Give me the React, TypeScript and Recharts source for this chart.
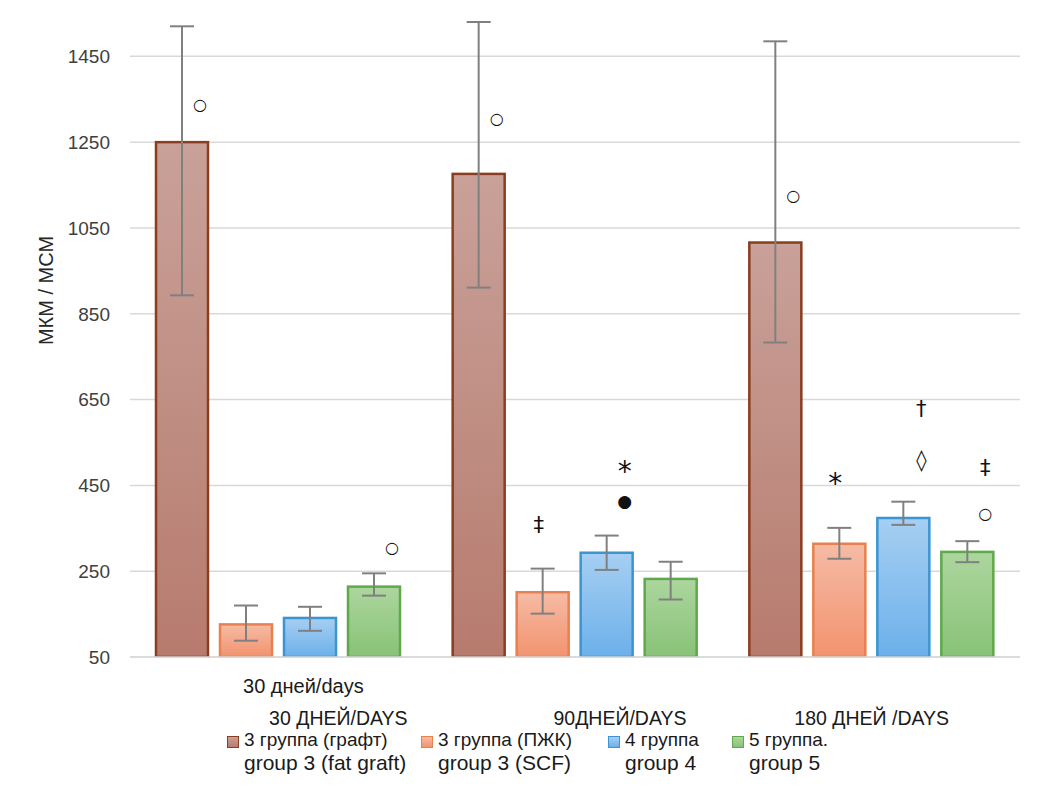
import { ComposedChart, Bar, XAxis, YAxis, CartesianGrid, ErrorBar, Legend } from 'recharts';

const categories = ['30 ДНЕЙ/DAYS', '90ДНЕЙ/DAYS', '180 ДНЕЙ /DAYS'];
const axisSubtitle = '30 дней/days';
const yTicks = [50, 250, 450, 650, 850, 1050, 1250, 1450];

// means and [lower, upper] error sizes per day
const graftMean = [1250, 1176, 1016];
const graftErr = [[357, 270], [265, 354], [233, 469]];
const scfMean = [126, 201, 314];
const scfErr = [[38, 44], [50, 55], [35, 37]];
const g4Mean = [141, 293, 374];
const g4Err = [[30, 26], [40, 40], [16, 38]];
const g5Mean = [214, 232, 295];
const g5Err = [[21, 31], [48, 40], [24, 25]];

// significance marks, "at" is the level (in axis units) where the sign sits
const graftMarks = [[{ s: '○', at: 1338 }], [{ s: '○', at: 1304 }], [{ s: '○', at: 1125 }]];
const scfMarks = [[], [{ s: '‡', at: 358 }], [{ s: '*', at: 472 }]];
const g4Marks = [[], [{ s: '*', at: 500 }, { s: '●', at: 414 }], [{ s: '†', at: 627 }, { s: '◊', at: 509 }]];
const g5Marks = [[{ s: '○', at: 305 }], [], [{ s: '‡', at: 490 }, { s: '○', at: 384 }]];

const series = [
  { key: 'graft', mean: graftMean, err: graftErr, marks: graftMarks, name: ['3 группа (графт)', 'group 3 (fat graft)'], top: '#c9a199', bottom: '#b77b6e', stroke: '#8b3d1f', markDx: 18 },
  { key: 'scf', mean: scfMean, err: scfErr, marks: scfMarks, name: ['3 группа (ПЖК)', 'group 3 (SCF)'], top: '#f6bba4', bottom: '#f2936f', stroke: '#e8804f', markDx: -4 },
  { key: 'g4', mean: g4Mean, err: g4Err, marks: g4Marks, name: ['4 группа', 'group 4'], top: '#a6cff2', bottom: '#6cb0ea', stroke: '#3b95d2', markDx: 18 },
  { key: 'g5', mean: g5Mean, err: g5Err, marks: g5Marks, name: ['5 группа.', 'group 5'], top: '#acd69e', bottom: '#88c277', stroke: '#5fa84c', markDx: 18 },
];

const data = categories.map((day, i) => {
  const row: any = { day };
  series.forEach(s => {
    row[s.key] = s.mean[i];
    row[s.key + 'Err'] = s.err[i];
  });
  return row;
});

const GLYPH: Record<string, { size: number; dy: number; weight: string }> = {
  '○': { size: 16, dy: 0, weight: 'bold' },
  '●': { size: 17, dy: 0, weight: 'normal' },
  '*': { size: 28, dy: 8, weight: 'normal' },
  '†': { size: 21, dy: 0, weight: 'normal' },
  '‡': { size: 21, dy: 0, weight: 'normal' },
  '◊': { size: 21, dy: 0, weight: 'normal' },
};

const LEGEND_WIDTHS = [194, 187, 124, 200];
const TICK_SHIFT = [60, 45, 0];
const LABEL_FONT = '"Liberation Sans", Arial, sans-serif';

function makeShape(s: (typeof series)[number]) {
  return (props: any) => {
    const { x, y, width, height, index } = props;
    const base = y + height;
    const perUnit = height / (s.mean[index] - 50);
    return (
      <g>
        <rect x={x} y={y} width={width} height={height} fill={`url(#grad-${s.key})`} stroke={s.stroke} strokeWidth={2.5} />
        {s.marks[index].map((m, j) => {
          const g = GLYPH[m.s];
          return (
            <text
              key={j}
              x={x + width / 2 + s.markDx}
              y={base - (m.at - 50) * perUnit + g.dy}
              textAnchor="middle"
              dominantBaseline="central"
              fontFamily="DejaVu Sans"
              fontSize={g.size}
              fontWeight={g.weight}
              fill="#111"
            >
              {m.s}
            </text>
          );
        })}
      </g>
    );
  };
}

const DayTick = (props: any) => {
  const { x, y, payload } = props;
  const i = payload.index ?? props.index;
  return (
    <g fontFamily={LABEL_FONT} fill="#1a1a1a">
      {i === 0 && (
        <text x={x + 25} y={y + 28} textAnchor="middle" fontSize={20} fill="#1a1a1a">
          {axisSubtitle}
        </text>
      )}
      <text x={x + TICK_SHIFT[i]} y={y + 60} textAnchor="middle" fontSize={19.5} fill="#1a1a1a">
        {payload.value}
      </text>
    </g>
  );
};

const LegendBox = () => (
  <div style={{ display: 'flex', paddingLeft: 227, height: 50, fontFamily: LABEL_FONT, color: '#1a1a1a' }}>
    {series.map((s, i) => (
      <div key={s.key} style={{ width: LEGEND_WIDTHS[i], display: 'flex', alignItems: 'flex-start', flex: 'none' }}>
        <span
          style={{
            width: 10,
            height: 10,
            marginTop: 9,
            marginRight: 5,
            flex: 'none',
            border: `1.5px solid ${s.stroke}`,
            background: `linear-gradient(${s.top}, ${s.bottom})`,
          }}
        />
        <div style={{ whiteSpace: 'nowrap', paddingTop: 2 }}>
          <div style={{ fontSize: 19, lineHeight: '22px' }}>{s.name[0]}</div>
          <div style={{ fontSize: 21, lineHeight: '24px' }}>{s.name[1]}</div>
        </div>
      </div>
    ))}
  </div>
);

const YLabel = (props: any) => {
  const vb = props.viewBox;
  const cx = vb.x + 46;
  const cy = vb.y + vb.height / 2 - 43;
  return (
    <text x={cx} y={cy} transform={`rotate(-90 ${cx} ${cy})`} textAnchor="middle" dominantBaseline="central" fontFamily={LABEL_FONT} fontSize={20} fill="#262626">
      МКМ / МСМ
    </text>
  );
};

export default function App() {
  return (
    <div style={{ position: 'absolute', left: 0, top: 0, background: '#fff' }}>
      <ComposedChart width={1056} height={797} data={data} margin={{ top: 10, right: 36, bottom: 20, left: 0 }} barSize={52} barGap={12}>
        <defs>
          {series.map(s => (
            <linearGradient key={s.key} id={`grad-${s.key}`} x1="0" y1="0" x2="0" y2="1">
              <stop offset="0%" stopColor={s.top} />
              <stop offset="100%" stopColor={s.bottom} />
            </linearGradient>
          ))}
        </defs>
        <CartesianGrid vertical={false} horizontalValues={yTicks} stroke="#d9d9d9" strokeWidth={1.5} />
        <XAxis dataKey="day" axisLine={{ stroke: '#d9d9d9', strokeWidth: 1.5 }} tickLine={false} height={70} interval={0} tick={<DayTick />} />
        <YAxis
          domain={[50, 1558]}
          ticks={yTicks}
          interval={0}
          width={130}
          axisLine={false}
          tickLine={false}
          tickSize={0}
          tickMargin={20}
          tick={{ fill: '#404040', fontSize: 19, fontFamily: LABEL_FONT }}
          label={<YLabel />}
          allowDataOverflow
        />
        <Legend verticalAlign="bottom" content={<LegendBox />} wrapperStyle={{ left: 0, width: 1056 }} />
        {series.map(s => (
          <Bar key={s.key} dataKey={s.key} name={s.name.join(' ')} isAnimationActive={false} shape={makeShape(s)}>
            <ErrorBar dataKey={s.key + 'Err'} width={12} stroke="#808080" strokeWidth={2} direction="y" />
          </Bar>
        ))}
      </ComposedChart>
    </div>
  );
}
